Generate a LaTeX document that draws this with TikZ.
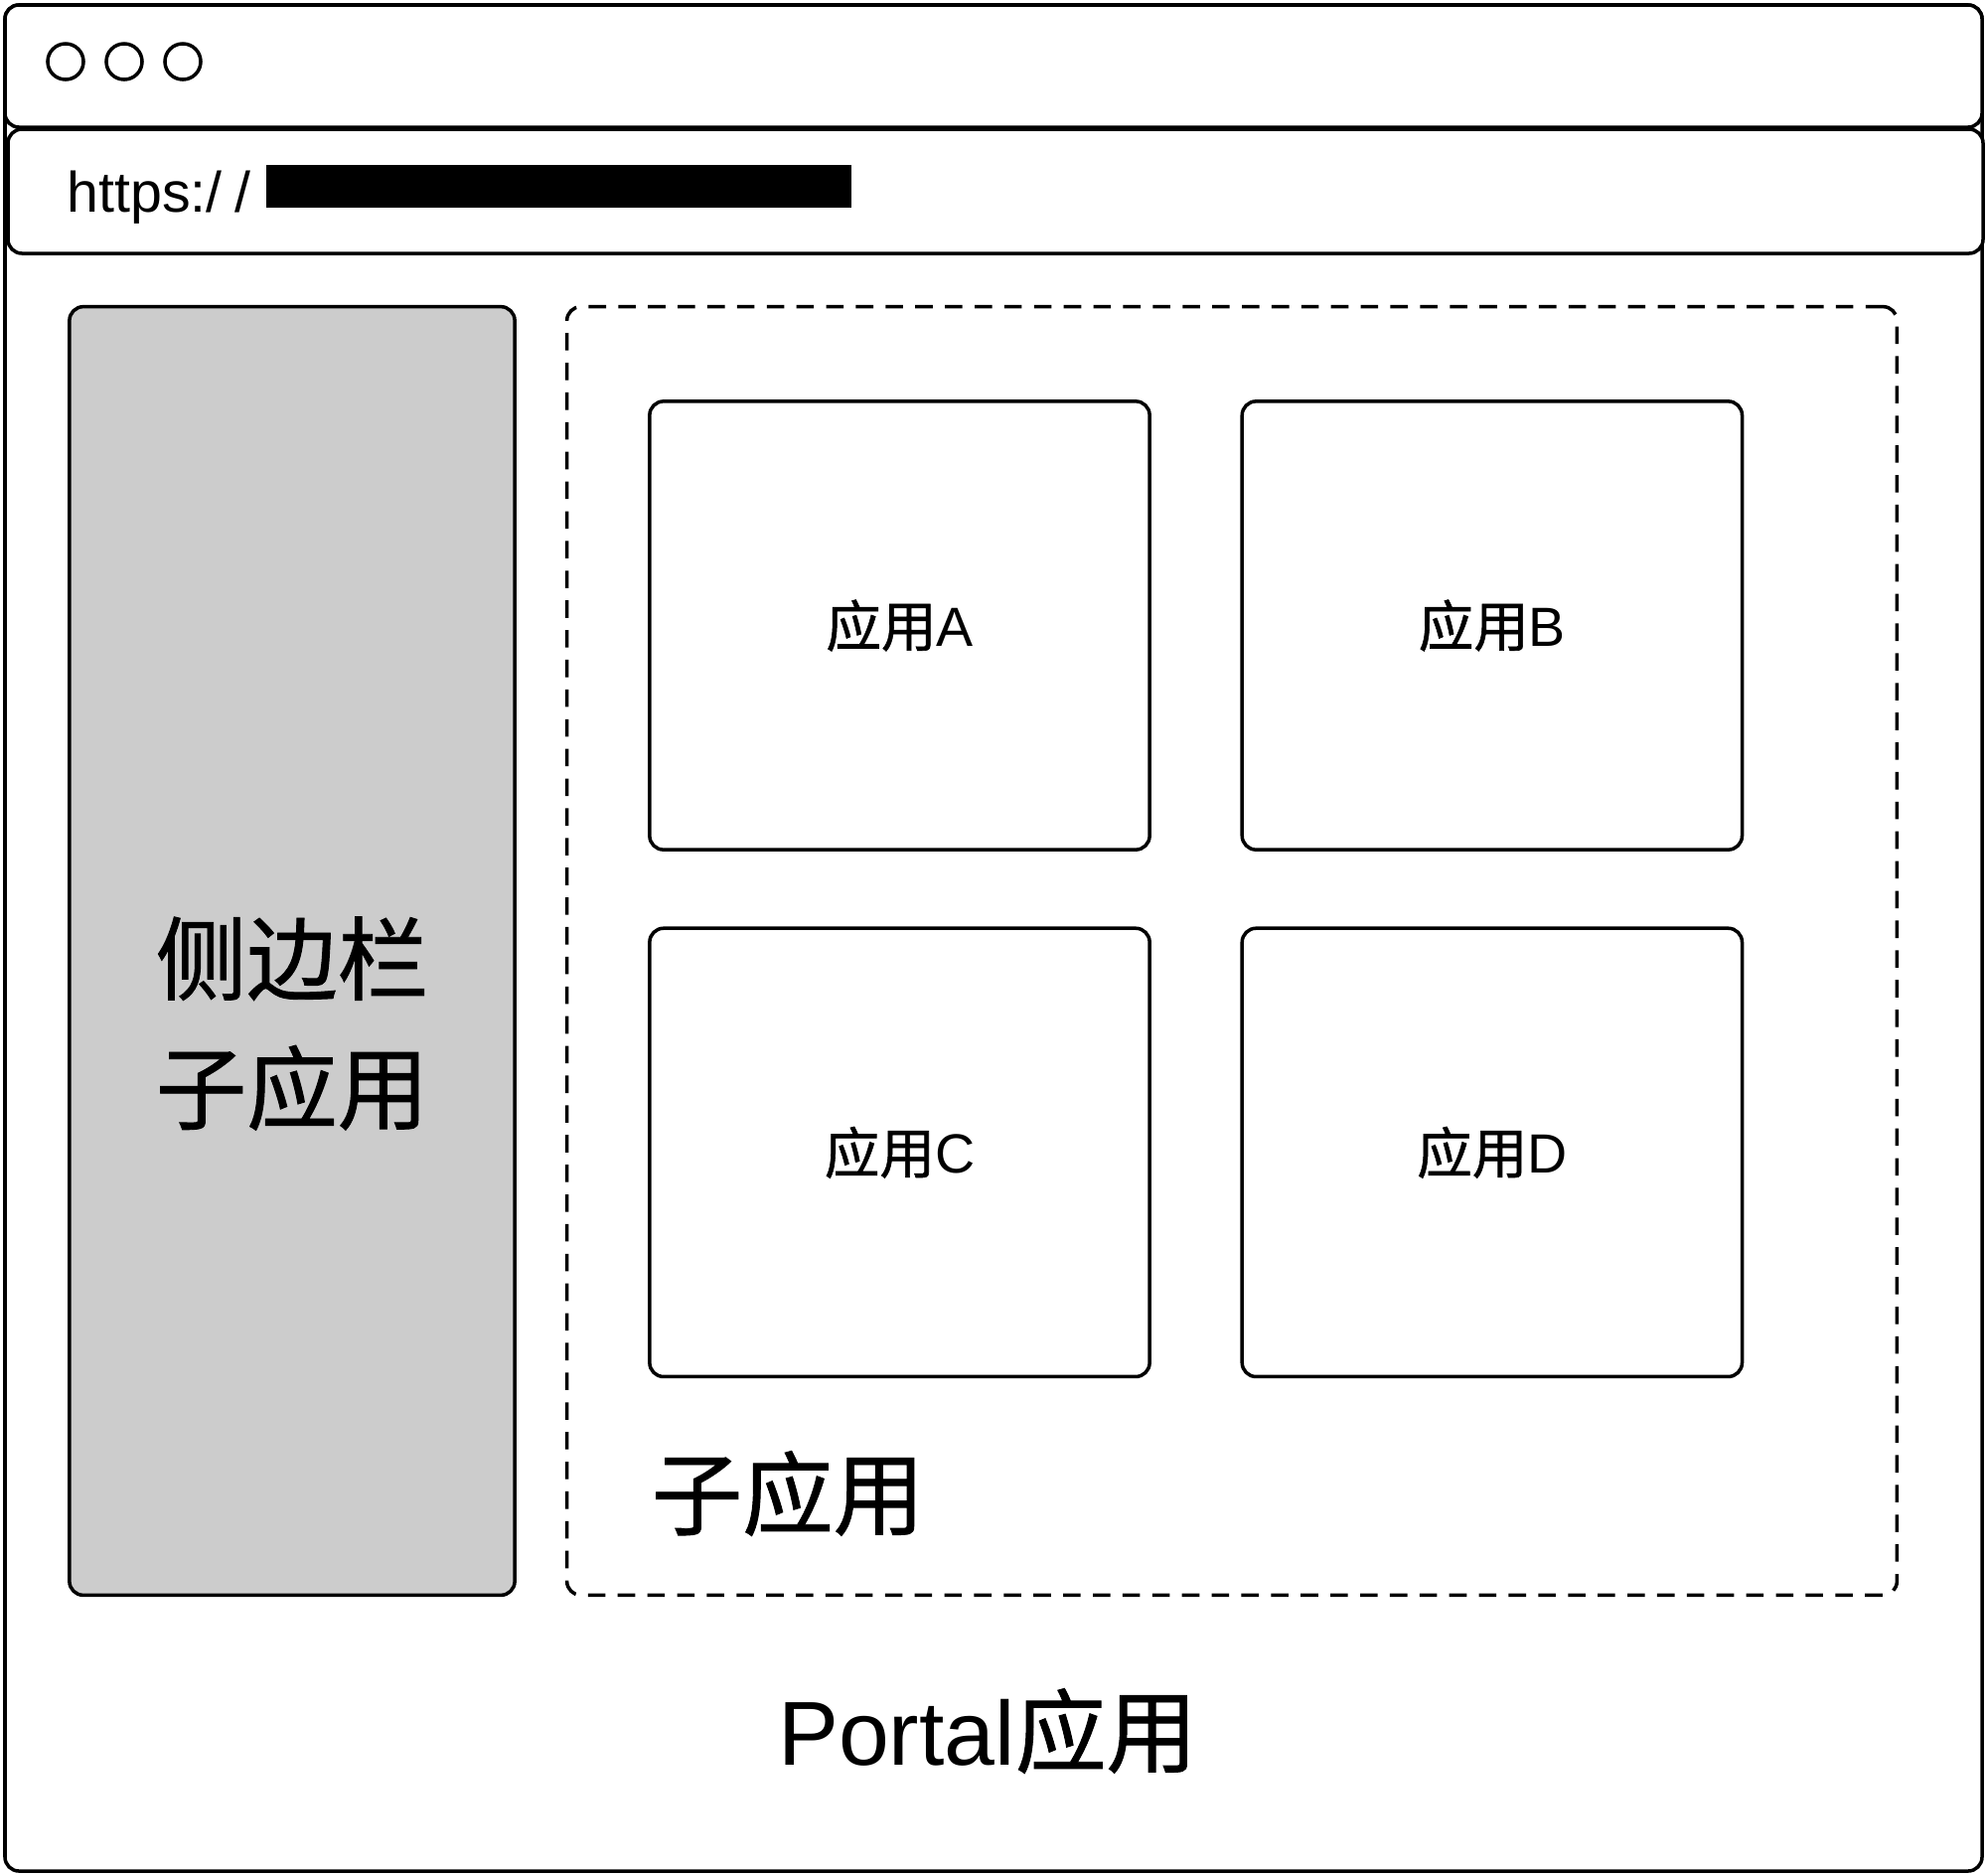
\documentclass[tikz,border=0pt]{standalone}
\usepackage{fontspec}
\setmainfont{Liberation Sans}
\newfontfamily\cjk[FakeBold=1]{Noto Sans CJK SC}
\usetikzlibrary{positioning}

\tikzset{
  frame/.style={draw, line width=1pt},
  bar/.style={frame, fill=white, rounded corners=4pt},
  appbox/.style={frame, rounded corners=4pt, minimum width=5.03cm,
    minimum height=4.51cm, font=\fontsize{15.8}{19}\selectfont},
  biglabel/.style={font=\cjk\fontsize{26}{37}\selectfont}
}

\begin{document}
\begin{tikzpicture}[x=0.01cm, y=-0.01cm, node distance=0.755cm and 0.895cm]
  \useasboundingbox (0,0) rectangle (2000,1887);

  % Browser window
  \draw[frame, rounded corners=4pt] (5,5) rectangle (1995,1883);
  \draw[bar] (5,5) rectangle (1995,128);
  \draw[bar] (8,130) rectangle (1996,255);

  % Window buttons
  \foreach \x in {66,125,184}
    \draw[frame] (\x,62) circle (0.18cm);

  % Address
  \node[anchor=base west, inner sep=0, font=\fontsize{16.3}{20}\selectfont] (url) at (67,213) {https:/\kern3.5pt/};
  \fill (268,166) rectangle (857,209);

  % Sidebar
  \node[frame, rounded corners=4pt, fill=black!20, minimum width=4.48cm, minimum height=12.96cm] (sidebar) at (294,957) {};
  \node[biglabel, align=center, yshift=-0.73cm] (sidetext) at (sidebar) {侧边栏\\子应用};

  % Sub applications
  \node[frame, dash pattern=on 5pt off 3.5pt, rounded corners=4pt, minimum width=13.38cm, minimum height=12.96cm] (subapps) at (1240,957) {};
  \node[appbox] (appA) at (905.5,629.5) {{\cjk 应用}A};
  \node[appbox, right=of appA] (appB) {{\cjk 应用}B};
  \node[appbox, below=of appA] (appC) {{\cjk 应用}C};
  \node[appbox, below=of appB] (appD) {{\cjk 应用}D};
  \node[biglabel] (sublabel) at (793,1503) {子应用};

  % Portal
  \node[font=\fontsize{26}{30}\selectfont] (portal) at (994,1742) {Portal{\cjk 应用}};
\end{tikzpicture}
\end{document}
